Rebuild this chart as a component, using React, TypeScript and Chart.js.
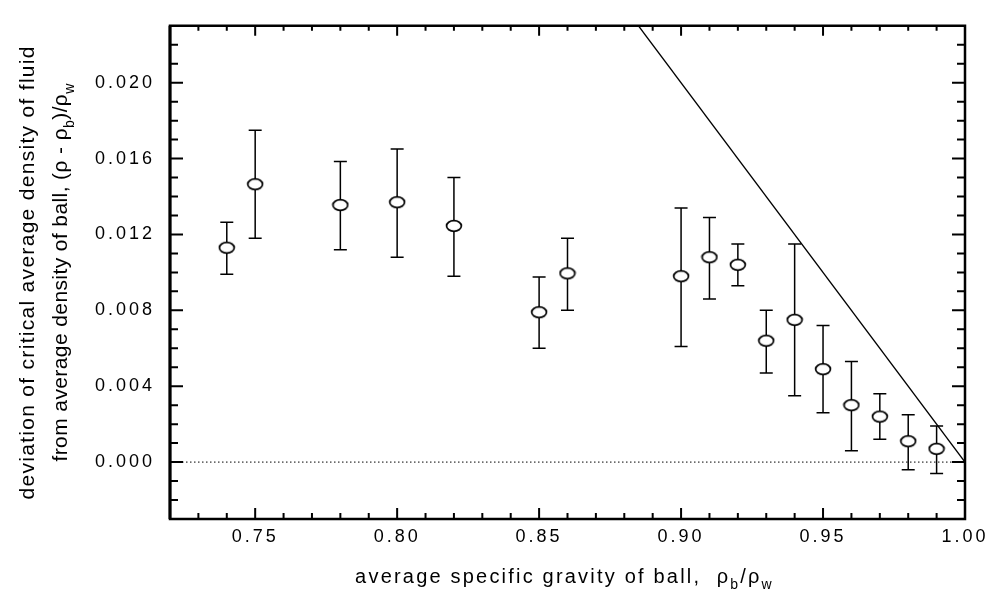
import React, { useEffect, useRef } from 'react';
import { Chart, registerables } from 'chart.js';

Chart.register(...registerables);

// ---- data ----
const gravity = [0.74, 0.75, 0.78, 0.80, 0.82, 0.85, 0.86, 0.90, 0.91, 0.92, 0.93, 0.94, 0.95, 0.96, 0.97, 0.98, 0.99];
const deviation = [0.0113, 0.01465, 0.01355, 0.0137, 0.01245, 0.0079, 0.00995, 0.0098, 0.0108, 0.0104, 0.0064, 0.0075, 0.0049, 0.0030, 0.0024, 0.0011, 0.0007];
const errUpper = [0.01265, 0.0175, 0.01585, 0.0165, 0.0150, 0.00976, 0.0118, 0.0134, 0.0129, 0.0115, 0.0080, 0.0115, 0.0072, 0.0053, 0.0036, 0.0025, 0.0019];
const errLower = [0.0099, 0.0118, 0.0112, 0.0108, 0.0098, 0.0060, 0.0080, 0.0061, 0.0086, 0.0093, 0.0047, 0.0035, 0.0026, 0.0006, 0.0012, -0.0004, -0.0006];

const limitX = [0.885, 1.0];
const limitY = [0.023, 0.0];
const zeroX = [0.72, 1.0];
const zeroY = [0, 0];

const xTicks = [0.75, 0.80, 0.85, 0.90, 0.95, 1.00];
const yTicks = [0.000, 0.004, 0.008, 0.012, 0.016, 0.020];
const xMin = 0.72, xMax = 1.0, xMinorStep = 0.01;
const yMin = -0.003, yMax = 0.023, yMinorStep = 0.001;

const xTitle = [{ t: 'average specific gravity of ball,  \u03C1' }, { t: 'b', sub: true }, { t: '/\u03C1' }, { t: 'w', sub: true }];
const yTitle1 = [{ t: 'deviation of critical average density of fluid' }];
const yTitle2 = [{ t: 'from average density of ball, (\u03C1 - \u03C1' }, { t: 'b', sub: true }, { t: ')/\u03C1' }, { t: 'w', sub: true }];

const FONT = '"Liberation Sans", Arial, Helvetica, sans-serif';

type Seg = { t: string; sub?: boolean };

function drawRich(ctx: CanvasRenderingContext2D, segs: Seg[], x: number, y: number, size: number, spacing: number, rotate: boolean) {
  ctx.save();
  ctx.translate(x, y);
  if (rotate) ctx.rotate(-Math.PI / 2);
  (ctx as any).letterSpacing = spacing + 'px';
  const main = `${size}px ${FONT}`;
  const sub = `${Math.round(size * 0.68)}px ${FONT}`;
  let total = 0;
  segs.forEach((s) => {
    ctx.font = s.sub ? sub : main;
    total += ctx.measureText(s.t).width;
  });
  let cx = -total / 2;
  ctx.textAlign = 'left';
  ctx.textBaseline = 'alphabetic';
  ctx.fillStyle = '#000';
  segs.forEach((s) => {
    ctx.font = s.sub ? sub : main;
    ctx.fillText(s.t, cx, s.sub ? size * 0.32 : 0);
    cx += ctx.measureText(s.t).width;
  });
  ctx.restore();
}

function makeEllipse() {
  const c = document.createElement('canvas');
  c.width = 18;
  c.height = 14;
  const g = c.getContext('2d')!;
  g.beginPath();
  g.ellipse(9, 7, 7.4, 5.3, 0, 0, Math.PI * 2);
  g.fillStyle = '#fff';
  g.fill();
  g.lineWidth = 1.7;
  g.strokeStyle = '#000';
  g.stroke();
  return c;
}

const framePlugin = {
  id: 'framePlugin',
  beforeDraw(chart: any) {
    chart.ctx.letterSpacing = '3px';
  },
  beforeDatasetsDraw(chart: any) {
    const ctx = chart.ctx as CanvasRenderingContext2D;
    const xs = chart.scales.x, ys = chart.scales.y;
    ctx.save();
    ctx.strokeStyle = '#000';
    ctx.lineWidth = 1.5;
    gravity.forEach((g, i) => {
      const px = xs.getPixelForValue(g);
      const pt = ys.getPixelForValue(errUpper[i]);
      const pb = ys.getPixelForValue(errLower[i]);
      ctx.beginPath();
      ctx.moveTo(px, pt); ctx.lineTo(px, pb);
      ctx.moveTo(px - 6.5, pt); ctx.lineTo(px + 6.5, pt);
      ctx.moveTo(px - 6.5, pb); ctx.lineTo(px + 6.5, pb);
      ctx.stroke();
    });
    ctx.restore();
  },
  afterDraw(chart: any) {
    const ctx = chart.ctx as CanvasRenderingContext2D;
    (ctx as any).letterSpacing = '0px';
    const { left, right, top, bottom } = chart.chartArea;
    const xs = chart.scales.x, ys = chart.scales.y;
    ctx.save();
    ctx.strokeStyle = '#000';
    ctx.lineCap = 'butt';
    // ticks
    ctx.lineWidth = 2;
    ctx.beginPath();
    for (let v = xMin + xMinorStep; v < xMax - 1e-9; v += xMinorStep) {
      const p = xs.getPixelForValue(v);
      const major = xTicks.some((t) => Math.abs(t - v) < 1e-6);
      ctx.moveTo(p, bottom); ctx.lineTo(p, bottom - (major ? 11 : 6));
      ctx.moveTo(p, top); ctx.lineTo(p, top + (major ? 10 : 5));
    }
    for (let v = yMin + yMinorStep; v < yMax - 1e-9; v += yMinorStep) {
      const p = ys.getPixelForValue(v);
      const major = yTicks.some((t) => Math.abs(t - v) < 1e-7);
      ctx.moveTo(left, p); ctx.lineTo(left + (major ? 13 : 8), p);
      ctx.moveTo(right, p); ctx.lineTo(right - (major ? 13 : 8), p);
    }
    ctx.stroke();
    // frame
    ctx.lineWidth = 2.5;
    ctx.beginPath();
    ctx.moveTo(left, top); ctx.lineTo(right, top);
    ctx.lineTo(right, bottom); ctx.lineTo(left, bottom); ctx.closePath();
    ctx.stroke();
    ctx.lineWidth = 3;
    ctx.beginPath();
    ctx.moveTo(left, top); ctx.lineTo(left, bottom);
    ctx.stroke();
    ctx.restore();
    // titles
    drawRich(ctx, xTitle, (left + right) / 2 - 3, 583, 20, 2.2, false);
    drawRich(ctx, yTitle1, 34, (top + bottom) / 2, 21, 1.3, true);
    drawRich(ctx, yTitle2, 67, (top + bottom) / 2, 21, 0.4, true);
  },
};

export default function App() {
  const ref = useRef<HTMLCanvasElement>(null);
  useEffect(() => {
    document.body.style.margin = '0';
    const ellipse = makeEllipse();
    const chart = new Chart(ref.current!, {
      type: 'scatter',
      data: {
        datasets: [
          {
            data: gravity.map((g, i) => ({ x: g, y: deviation[i] })),
            pointStyle: ellipse as any,
            pointRadius: 7,
            showLine: false,
            order: 0,
          },
          {
            data: limitX.map((x, i) => ({ x, y: limitY[i] })),
            showLine: true,
            borderColor: '#000',
            borderWidth: 1.4,
            pointRadius: 0,
            order: 1,
          },
          {
            data: zeroX.map((x, i) => ({ x, y: zeroY[i] })),
            showLine: true,
            borderColor: '#000',
            borderWidth: 1,
            borderDash: [1.5, 2.5],
            pointRadius: 0,
            order: 2,
          },
        ],
      },
      options: {
        responsive: false,
        animation: false,
        events: [],
        layout: { padding: { left: 0, top: 14, right: 25, bottom: 0 }, autoPadding: false },
        plugins: { legend: { display: false }, tooltip: { enabled: false } },
        scales: {
          x: {
            type: 'linear',
            min: xMin,
            max: xMax,
            grid: { display: false, drawTicks: false },
            border: { display: false },
            afterBuildTicks: (s: any) => { s.ticks = xTicks.map((v) => ({ value: v })); },
            afterFit: (s: any) => { s.height = 73; },
            ticks: {
              autoSkip: false,
              maxRotation: 0,
              padding: 7,
              color: '#000',
              font: { family: FONT, size: 18 },
              callback: (v: any) => Number(v).toFixed(2),
            },
          },
          y: {
            type: 'linear',
            min: yMin,
            max: yMax,
            grid: { display: false, drawTicks: false },
            border: { display: false },
            afterBuildTicks: (s: any) => { s.ticks = yTicks.map((v) => ({ value: v })); },
            afterFit: (s: any) => { s.width = 170; },
            ticks: {
              autoSkip: false,
              padding: 15,
              color: '#000',
              font: { family: FONT, size: 18 },
              callback: (v: any) => Number(v).toFixed(3),
            },
          },
        },
      },
      plugins: [framePlugin],
    } as any);
    return () => chart.destroy();
  }, []);
  return <canvas ref={ref} width={990} height={592} style={{ display: 'block', width: 990, height: 592 }} />;
}
